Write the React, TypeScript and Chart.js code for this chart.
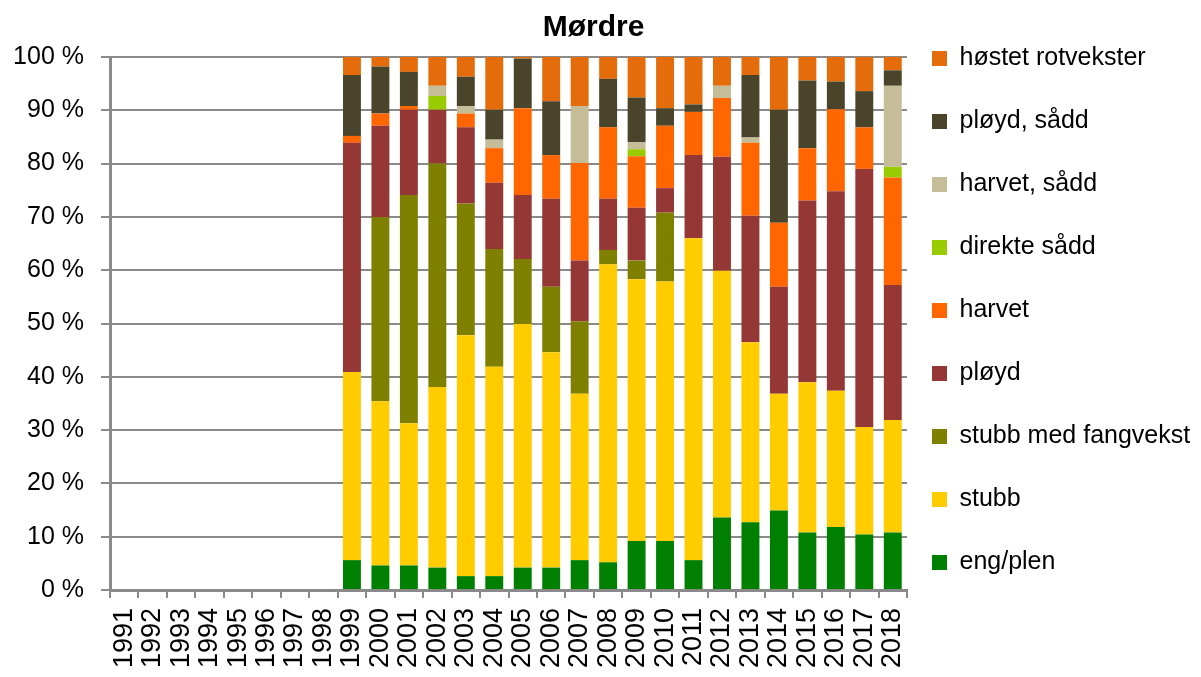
import React, { useEffect, useRef } from "react";
import { Chart, registerables } from "chart.js";

Chart.register(...registerables);

const years = [
  "1991", "1992", "1993", "1994", "1995", "1996", "1997", "1998", "1999", "2000",
  "2001", "2002", "2003", "2004", "2005", "2006", "2007", "2008", "2009", "2010",
  "2011", "2012", "2013", "2014", "2015", "2016", "2017", "2018",
];

const empty = [null, null, null, null, null, null, null, null];

// values 1999..2018, percent of area
const engPlen = [5.6, 4.6, 4.6, 4.2, 2.6, 2.6, 4.2, 4.2, 5.6, 5.2, 9.2, 9.2, 5.6, 13.6, 12.7, 14.9, 10.8, 11.8, 10.4, 10.8];
const stubb = [35.3, 30.8, 26.7, 33.9, 45.2, 39.3, 45.7, 40.4, 31.2, 55.9, 49.1, 48.7, 60.4, 46.3, 33.8, 21.9, 28.2, 25.6, 20.2, 21.1];
const stubbFangvekst = [0, 34.6, 42.8, 41.9, 24.7, 22.1, 12.2, 12.3, 13.6, 2.7, 3.5, 12.9, 0, 0, 0, 0, 0, 0, 0, 0];
const ployd = [43.0, 17.1, 16.0, 10.1, 14.3, 12.4, 12.0, 16.5, 11.4, 9.6, 9.9, 4.6, 15.6, 21.4, 23.7, 20.1, 34.1, 37.4, 48.4, 25.3];
const harvet = [1.3, 2.3, 0.7, 0, 2.6, 6.5, 16.3, 8.2, 18.3, 13.4, 9.7, 11.7, 8.1, 11.0, 13.7, 12.0, 9.8, 15.4, 7.8, 20.2];
const direkteSadd = [0, 0, 0, 2.6, 0, 0, 0, 0, 0, 0, 1.3, 0, 0, 0, 0, 0, 0, 0, 0, 2.0];
const harvetSadd = [0, 0, 0, 1.9, 1.4, 1.6, 0, 0, 10.7, 0, 1.3, 0, 0, 2.3, 1.0, 0, 0, 0, 0, 15.2];
const ploydSadd = [11.4, 8.8, 6.4, 0, 5.5, 5.6, 9.3, 10.1, 0, 9.1, 8.4, 3.3, 1.4, 0, 11.7, 21.2, 12.7, 5.2, 6.8, 2.9];
const hostetRotvekster = [3.4, 1.8, 2.8, 5.4, 3.7, 9.9, 0.3, 8.3, 9.3, 4.1, 7.7, 9.6, 8.9, 5.4, 3.4, 9.9, 4.4, 4.7, 6.4, 2.5];

const seriesNames = [
  "eng/plen", "stubb", "stubb med fangvekst", "pløyd", "harvet",
  "direkte sådd", "harvet, sådd", "pløyd, sådd", "høstet rotvekster",
];
const seriesValues = [engPlen, stubb, stubbFangvekst, ployd, harvet, direkteSadd, harvetSadd, ploydSadd, hostetRotvekster];
const seriesColors = ["#008000", "#FFCC00", "#808000", "#953735", "#FF6600", "#99CC00", "#C4BD97", "#4A452A", "#E46C0A"];

const yTicks = [0, 10, 20, 30, 40, 50, 60, 70, 80, 90, 100];

const FONT = "'Liberation Sans', Arial, sans-serif";
const GRID = "#8a8a8a";

// nudges the built-in legend and title blocks to sit where the reference has them
const blockNudge = {
  id: "blockNudge",
  afterLayout(chart: any) {
    const lg = chart.legend;
    if (lg) {
      lg.left -= 13;
      lg.width += 13;
      lg.top -= 28;
      lg.bottom -= 28;
    }
    const tb = chart.titleBlock;
    if (tb) {
      tb.left -= 12;
      tb.right -= 12;
    }
  },
};

export default function App() {
  const ref = useRef<HTMLCanvasElement | null>(null);

  useEffect(() => {
    document.documentElement.style.overflow = "hidden";
    document.body.style.overflow = "hidden";
    document.body.style.margin = "0";
    if (!ref.current) return;
    const chart = new Chart(ref.current, {
      type: "bar",
      data: {
        labels: years,
        datasets: seriesNames.map((name, i) => ({
          label: name,
          data: [...empty, ...seriesValues[i]],
          backgroundColor: seriesColors[i],
          borderWidth: 0,
          barPercentage: 0.63,
          categoryPercentage: 1,
        })),
      },
      plugins: [blockNudge],
      options: {
        animation: false,
        responsive: false,
        maintainAspectRatio: false,
        layout: { padding: { left: 10, right: 0, top: 0, bottom: 0 } },
        plugins: {
          title: {
            display: true,
            text: "Mørdre",
            color: "#000",
            font: { family: FONT, size: 30, weight: "bold" },
            padding: { top: 10, bottom: 11 },
          },
          legend: {
            position: "right",
            reverse: true,
            maxWidth: 294,
            labels: {
              color: "#000",
              font: { family: FONT, size: 25 },
              boxWidth: 15,
              boxHeight: 15,
              padding: 38,
            },
          },
          tooltip: { enabled: false },
        },
        scales: {
          x: {
            stacked: true,
            offset: true,
            grid: {
              offset: true,
              drawOnChartArea: false,
              drawTicks: true,
              tickLength: 8,
              color: GRID,
              lineWidth: 2,
            },
            border: { display: true, color: GRID, width: 3 },
            ticks: {
              color: "#000",
              font: { family: FONT, size: 27 },
              minRotation: 90,
              maxRotation: 90,
              autoSkip: false,
              padding: 10,
            },
            afterFit: (s: any) => { s.height = 87; },
          },
          y: {
            stacked: true,
            min: 0,
            max: 100,
            afterBuildTicks: (s: any) => { s.ticks = yTicks.map((v) => ({ value: v })); },
            grid: {
              color: GRID,
              lineWidth: 2,
              drawTicks: true,
              tickLength: 9,
            },
            border: { display: true, color: GRID, width: 3 },
            ticks: {
              color: "#000",
              font: { family: FONT, size: 25 },
              padding: 17,
              callback: (v: any) => `${v} %`,
            },
            afterFit: (s: any) => { s.width = 100; },
          },
        },
      },
    });
    return () => chart.destroy();
  }, []);

  return (
    <div style={{ position: "fixed", left: 0, top: 0, width: 1201, height: 677, overflow: "hidden", background: "#fff" }}>
      <canvas ref={ref} width={1201} height={677} style={{ display: "block", width: 1201, height: 677 }} />
    </div>
  );
}
